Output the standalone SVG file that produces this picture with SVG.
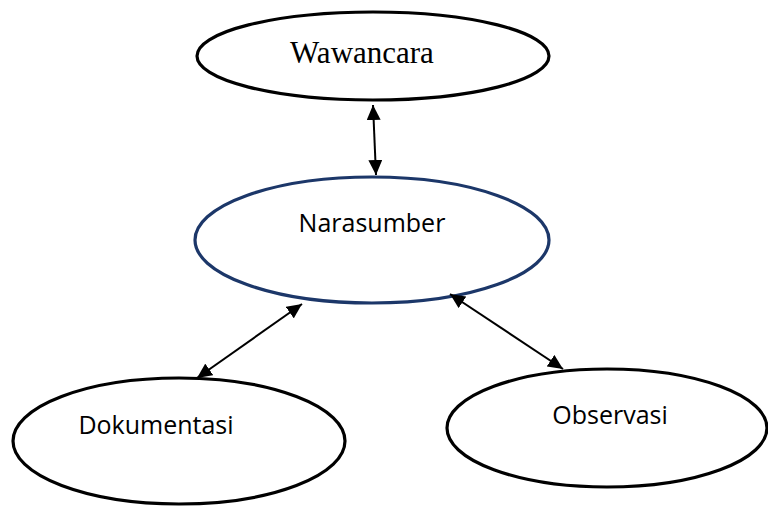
<svg xmlns="http://www.w3.org/2000/svg" width="768" height="506" viewBox="0 0 768 506">
<defs>
<marker id="ah" markerUnits="userSpaceOnUse" markerWidth="16" markerHeight="14" refX="15" refY="7" orient="auto-start-reverse">
<path d="M0,0 L15,7 L0,14 Z" fill="#000"/>
</marker>
<style>
.node{fill:#fff;stroke:#000;stroke-width:3.2}
.blue{stroke:#1c3769}
.sans{font-family:"Open Sans","Liberation Sans",sans-serif;font-size:25px;fill:#000}
.serif{font-family:"Liberation Serif","Times New Roman",serif;font-size:31px;fill:#000}
.conn{stroke:#000;stroke-width:2;fill:none;marker-start:url(#ah);marker-end:url(#ah)}
</style>
</defs>
<rect width="768" height="506" fill="#fff"/>
<g id="wawancara">
<ellipse class="node" cx="373" cy="56" rx="176" ry="44"/>
<text class="serif" x="362" y="63" text-anchor="middle">Wawancara</text>
</g>
<g id="narasumber">
<ellipse class="node blue" cx="372" cy="240" rx="177" ry="63"/>
<text class="sans" x="372" y="232" text-anchor="middle">Narasumber</text>
</g>
<g id="dokumentasi">
<ellipse class="node" cx="179" cy="441" rx="166" ry="63"/>
<text class="sans" x="156" y="434" text-anchor="middle">Dokumentasi</text>
</g>
<g id="observasi">
<ellipse class="node" cx="607" cy="428" rx="160" ry="59"/>
<text class="sans" x="610" y="424" text-anchor="middle">Observasi</text>
</g>
<g id="connectors">
<line class="conn" x1="373" y1="105" x2="376" y2="175"/>
<line class="conn" x1="302" y1="304" x2="197" y2="378"/>
<line class="conn" x1="450" y1="294" x2="563" y2="369"/>
</g>
</svg>
